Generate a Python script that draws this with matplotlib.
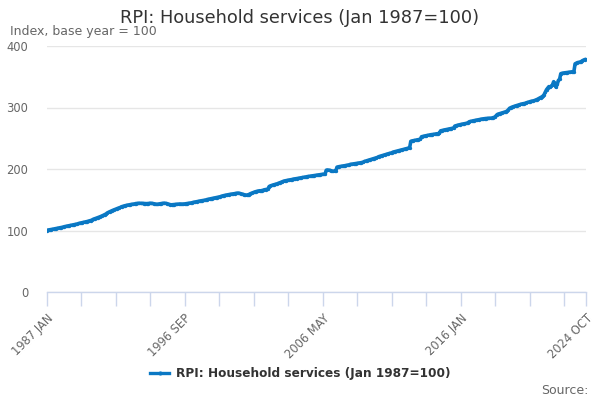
import matplotlib
matplotlib.use("Agg")
import matplotlib.pyplot as plt
from matplotlib.lines import Line2D

title = "RPI: Household services (Jan 1987=100)"
subtitle = "Index, base year = 100"
series_name = "RPI: Household services (Jan 1987=100)"

v1987 = [100.0, 100.6, 101.0, 101.3, 101.6, 102.0, 102.4, 102.8, 103.1, 103.5, 103.9, 104.3]
v1988 = [104.7, 105.1, 105.5, 106.2, 106.6, 107.0, 107.4, 107.8, 108.2, 108.6, 109.0, 109.4]
v1989 = [109.8, 110.2, 110.6, 111.4, 111.8, 112.3, 112.8, 113.2, 113.6, 114.1, 114.5, 115.0]
v1990 = [115.6, 116.2, 116.8, 118.0, 118.7, 119.4, 120.0, 120.8, 121.5, 122.3, 123.1, 124.0]
v1991 = [125.0, 126.0, 126.9, 128.5, 129.5, 130.4, 131.3, 132.2, 133.0, 133.8, 134.6, 135.4]
v1992 = [136.1, 136.8, 137.5, 138.6, 139.2, 139.8, 140.3, 140.8, 141.2, 141.6, 142.0, 142.3]
v1993 = [142.6, 142.9, 143.2, 143.8, 144.0, 144.2, 144.3, 144.2, 144.1, 144.0, 143.9, 143.8]
v1994 = [143.7, 143.8, 144.0, 144.3, 144.2, 144.0, 143.6, 143.2, 142.8, 142.6, 142.9, 143.3]
v1995 = [143.7, 144.0, 144.2, 144.4, 144.2, 143.8, 143.2, 142.4, 142.0, 141.8, 142.0, 142.2]
v1996 = [142.4, 142.6, 142.8, 143.0, 143.1, 143.0, 142.9, 143.0, 143.2, 143.5, 143.8, 144.0]
v1997 = [144.3, 144.7, 145.0, 145.6, 146.0, 146.4, 146.8, 147.2, 147.6, 148.0, 148.3, 148.6]
v1998 = [149.0, 149.3, 149.7, 150.4, 150.8, 151.2, 151.6, 152.0, 152.4, 152.8, 153.2, 153.6]
v1999 = [154.0, 154.4, 154.9, 155.8, 156.3, 156.8, 157.2, 157.6, 158.0, 158.4, 158.7, 159.0]
v2000 = [159.3, 159.6, 159.9, 160.4, 160.6, 160.8, 160.5, 160.0, 159.4, 158.8, 158.2, 157.8]
v2001 = [157.6, 157.9, 158.5, 159.6, 160.4, 161.2, 162.0, 162.7, 163.3, 163.8, 164.2, 164.6]
v2002 = [164.5, 165.0, 165.5, 166.2, 166.6, 167.0, 167.3, 171.5, 172.5, 173.2, 173.8, 174.4]
v2003 = [175.0, 175.5, 176.0, 177.0, 177.6, 178.4, 179.2, 180.0, 180.6, 181.0, 181.4, 181.8]
v2004 = [182.2, 182.5, 182.8, 183.4, 183.7, 184.0, 184.3, 184.6, 185.0, 185.4, 185.8, 186.2]
v2005 = [186.5, 186.8, 187.1, 187.6, 187.9, 188.2, 188.5, 188.8, 189.1, 189.4, 189.7, 190.0]
v2006 = [190.3, 190.6, 190.9, 191.2, 191.4, 191.6, 191.8, 198.0, 198.4, 198.2, 197.8, 197.2]
v2007 = [196.6, 196.4, 196.6, 197.0, 203.0, 203.5, 203.9, 204.2, 204.5, 204.8, 205.2, 205.5]
v2008 = [206.0, 206.3, 206.6, 207.4, 207.7, 208.0, 208.3, 208.6, 208.9, 209.2, 209.5, 209.8]
v2009 = [210.2, 210.6, 211.0, 212.2, 212.8, 213.4, 214.0, 214.6, 215.2, 215.8, 216.4, 217.0]
v2010 = [217.6, 218.2, 218.8, 220.0, 220.6, 221.2, 221.8, 222.4, 223.0, 223.6, 224.2, 224.8]
v2011 = [225.3, 225.8, 226.3, 227.4, 227.9, 228.4, 228.9, 229.4, 229.9, 230.4, 230.9, 231.4]
v2012 = [231.9, 232.4, 232.9, 233.5, 233.9, 234.2, 245.0, 245.6, 246.0, 246.4, 246.8, 247.2]
v2013 = [247.6, 248.0, 248.4, 252.4, 252.9, 253.4, 253.8, 254.2, 254.6, 255.0, 255.4, 255.8]
v2014 = [256.0, 256.3, 256.6, 257.0, 257.3, 257.6, 258.0, 262.0, 262.5, 263.0, 263.4, 263.8]
v2015 = [264.2, 264.6, 265.0, 265.4, 265.8, 266.2, 266.6, 269.8, 270.4, 271.0, 271.5, 272.0]
v2016 = [272.4, 272.8, 273.2, 273.6, 274.0, 274.4, 274.8, 276.8, 277.3, 277.8, 278.2, 278.6]
v2017 = [279.0, 279.4, 279.8, 280.2, 280.6, 281.0, 281.3, 281.6, 281.9, 282.1, 282.3, 282.4]
v2018 = [282.5, 282.6, 282.8, 283.4, 284.0, 285.0, 287.5, 289.0, 289.6, 290.2, 290.8, 291.4]
v2019 = [292.0, 292.6, 293.2, 294.5, 296.5, 298.8, 299.8, 300.6, 301.3, 302.0, 302.6, 303.2]
v2020 = [303.8, 304.4, 305.0, 305.6, 306.0, 306.4, 306.8, 307.6, 308.2, 308.8, 309.4, 310.0]
v2021 = [310.4, 310.8, 311.4, 312.2, 313.0, 314.0, 315.0, 316.0, 317.2, 318.6, 321.0, 325.0]
v2022 = [329.0, 331.5, 334.0, 333.0, 335.0, 336.5, 342.0, 336.0, 333.0, 338.0, 344.0, 346.0]
v2023 = [355.0, 355.6, 356.0, 356.3, 356.6, 356.8, 357.0, 357.3, 357.6, 358.0, 358.2, 358.5]
v2024 = [371.0, 372.0, 373.0, 373.4, 373.8, 374.5, 376.0, 377.0, 377.8, 378.4]

values = (v1987 + v1988 + v1989 + v1990 + v1991 + v1992 + v1993 + v1994 + v1995 + v1996
          + v1997 + v1998 + v1999 + v2000 + v2001 + v2002 + v2003 + v2004 + v2005 + v2006
          + v2007 + v2008 + v2009 + v2010 + v2011 + v2012 + v2013 + v2014 + v2015 + v2016
          + v2017 + v2018 + v2019 + v2020 + v2021 + v2022 + v2023 + v2024)

months = ["JAN", "FEB", "MAR", "APR", "MAY", "JUN", "JUL", "AUG", "SEP", "OCT", "NOV", "DEC"]
labels = [f"{1987 + i // 12} {months[i % 12]}" for i in range(len(values))]

tick_labels_shown = ["1987 JAN", "1996 SEP", "2006 MAY", "2016 JAN", "2024 OCT"]
y_ticks = [0, 100, 200, 300, 400]

BLUE = "#0a78c4"
TXT = "#333333"
GREY = "#666666"
AXIS = "#ccd6eb"

fig = plt.figure(figsize=(6, 4), dpi=100)
ax = fig.add_axes([46.5 / 600, 1 - 292 / 400, (585.8 - 46.5) / 600, (292 - 46) / 400])

x = list(range(len(values)))
ax.plot(x, values, color=BLUE, lw=2.6, marker="o", ms=2.4, mew=0, solid_capstyle="round", zorder=3)

n = len(values)
ax.set_xlim(0, n - 1)
ax.set_ylim(0, 400)

ax.set_yticks(y_ticks)
ax.set_yticklabels([str(t) for t in y_ticks])
ax.tick_params(axis="y", length=0, labelsize=8.3, labelcolor=GREY, pad=13)
for t in ax.get_yticklabels():
    t.set_horizontalalignment("right")
ax.grid(axis="y", color="#e6e6e6", lw=1)
ax.set_axisbelow(True)

minor_pos = list(range(0, n, 29)) + [n - 1]
ax.set_xticks(minor_pos, minor=True)
label_pos = [labels.index(l) for l in tick_labels_shown]
ax.set_xticks(label_pos)
ax.set_xticklabels(tick_labels_shown, rotation=45, ha="right", rotation_mode="anchor")
ax.tick_params(axis="x", which="both", length=10, color=AXIS, width=1, labelsize=8.3,
               labelcolor=GREY, pad=4)

for s in ["top", "right", "left"]:
    ax.spines[s].set_visible(False)
ax.spines["bottom"].set_color(AXIS)
ax.spines["bottom"].set_linewidth(1)

fig.text(0.5, 1 - 18 / 400, title, ha="center", va="center", fontsize=12.8, color=TXT)
fig.text(10 / 600, 1 - 32 / 400, subtitle, ha="left", va="center", fontsize=9, color=GREY)

handle = Line2D([0], [0], color=BLUE, lw=2.4, marker="o", ms=3, mew=0)
leg = fig.legend([handle], [series_name], loc="center", bbox_to_anchor=(0.5, 1 - 374 / 400),
                 frameon=False, prop={"weight": "bold", "size": 8.75}, handlelength=1.6,
                 handletextpad=0.5)
for t in leg.get_texts():
    t.set_color(TXT)

fig.text(589 / 600, 1 - 390 / 400, "Source:", ha="right", va="center", fontsize=9, color=GREY)

fig.savefig("out.png", dpi=100)
